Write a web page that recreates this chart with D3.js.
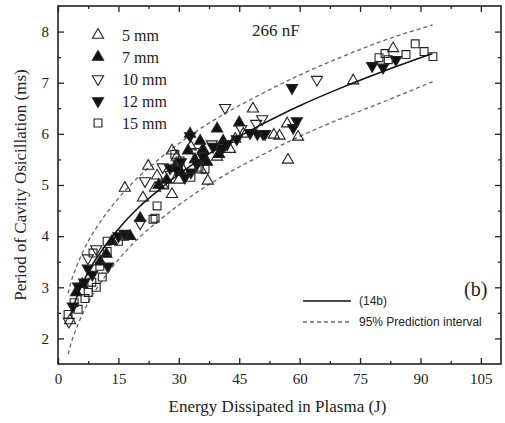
<!DOCTYPE html>
<html>
<head>
<meta charset="utf-8">
<script src="https://cdn.jsdelivr.net/npm/d3@7"></script>
<style>
  html, body { margin: 0; padding: 0; background: #fff; }
  svg { display: block; }
  .serif { font-family: "Liberation Serif", "Times New Roman", serif; fill: #222; }
  .sans { font-family: "Liberation Sans", Arial, sans-serif; fill: #222; }
</style>
</head>
<body>
<svg id="chart" width="505" height="423"></svg>
<script>
// Measured periods (ms) versus dissipated energy (J), by electrode gap
const gap5mm = [
  [3.0, 2.35], [16.6, 4.94], [21.1, 4.75], [22.4, 5.37], [24.6, 5.18], [24.1, 4.94],
  [28.3, 4.82], [28.3, 5.67], [29.5, 5.55], [31.0, 5.30], [33.0, 5.75], [35.5, 5.30],
  [37.2, 5.08], [39.5, 5.55], [42.7, 5.70], [44.0, 5.90], [48.4, 6.49], [53.6, 5.98],
  [55.0, 5.96], [56.9, 6.20], [57.1, 5.49], [59.6, 5.94], [73.3, 7.04], [83.2, 7.67],
  [26.0, 5.00], [30.0, 5.10], [40.5, 5.75], [46.0, 6.00]
];
const gap7mm = [
  [4.5, 2.90], [6.0, 3.06], [10.5, 3.50], [12.0, 3.65], [13.4, 3.90], [17.9, 4.00],
  [20.4, 4.35], [25.0, 5.00], [27.0, 5.10], [29.0, 5.35], [30.5, 5.25], [32.3, 5.67],
  [32.8, 6.00], [34.0, 5.50], [35.3, 5.86], [36.0, 5.70], [37.0, 5.45], [39.5, 6.10],
  [40.0, 5.60], [41.0, 5.86], [45.0, 6.22]
];
const gap10mm = [
  [2.7, 2.33], [7.4, 3.57], [9.5, 3.75], [20.4, 4.25], [21.6, 5.08], [26.0, 5.35],
  [28.0, 5.20], [30.0, 5.40], [34.0, 5.65], [38.2, 5.80], [41.5, 6.51], [45.5, 6.10],
  [49.2, 6.20], [50.7, 6.29], [64.3, 7.06]
];
const gap12mm = [
  [3.7, 2.63], [5.0, 3.02], [6.5, 3.10], [7.4, 3.37], [8.5, 3.25], [12.4, 3.41],
  [15.0, 4.00], [16.5, 4.05], [27.8, 5.33], [29.5, 5.30], [30.5, 5.45], [31.5, 5.15],
  [32.8, 5.96], [33.0, 5.25], [34.5, 5.41], [36.0, 5.55], [38.5, 5.75], [40.8, 5.72],
  [42.0, 5.80], [44.4, 5.90], [47.7, 6.02], [49.5, 6.00], [50.9, 6.00], [51.4, 6.00],
  [58.1, 6.90], [58.4, 6.12], [59.3, 6.25], [78.0, 7.33], [80.7, 7.30], [83.9, 7.45]
];
const gap15mm = [
  [2.5, 2.47], [4.0, 2.70], [5.0, 2.57], [6.7, 2.78], [7.5, 2.90], [8.4, 3.10],
  [8.7, 3.67], [9.5, 3.00], [10.4, 3.41], [11.0, 3.20], [12.2, 3.70], [12.2, 3.90],
  [15.0, 3.90], [16.6, 4.00], [23.6, 4.33], [24.1, 4.35], [24.6, 4.59], [26.5, 5.00],
  [29.0, 5.60], [30.3, 5.47], [33.0, 5.15], [35.0, 5.35], [36.5, 5.31], [79.7, 7.49],
  [81.2, 7.57], [82.0, 7.45], [86.4, 7.55], [88.7, 7.76], [90.9, 7.61], [93.1, 7.51]
];

// Fitted curve (14b) and its 95% prediction band
const fitEnergy = [3, 5, 7.5, 10, 15, 20, 25, 30, 40, 50, 60, 70, 80, 93];
const fitPeriod = [2.44, 2.88, 3.30, 3.62, 4.14, 4.56, 4.90, 5.21, 5.73, 6.16, 6.55, 6.89, 7.20, 7.57];
const bandEnergy = [2.5, 3, 5, 7.5, 10, 15, 20, 25, 30, 40, 50, 60, 70, 80, 93];
const bandUpper = [2.88, 3.04, 3.48, 3.90, 4.22, 4.74, 5.16, 5.50, 5.81, 6.33, 6.76, 7.15, 7.49, 7.80, 8.13];
const bandLower = [1.69, 1.84, 2.28, 2.70, 3.02, 3.54, 3.96, 4.30, 4.61, 5.13, 5.56, 5.95, 6.29, 6.60, 7.02];

const xTicks = [0, 15, 30, 45, 60, 75, 90, 105];
const yTicks = [2, 3, 4, 5, 6, 7, 8];
const seriesNames = ["5 mm", "7 mm", "10 mm", "12 mm", "15 mm"];

const svg = d3.select("#chart");
const plotL = 58, plotR = 501, plotT = 6, plotB = 364;

const x = d3.scaleLinear().domain([0, 110]).range([plotL, plotR]);
const y = d3.scaleLinear().domain([1.5, 8.5]).range([plotB, plotT]);

const series = [
  { name: seriesNames[0], data: gap5mm, shape: d3.symbolTriangle, rot: 0, fill: "none", size: 54 },
  { name: seriesNames[1], data: gap7mm, shape: d3.symbolTriangle, rot: 0, fill: "#111", size: 54 },
  { name: seriesNames[2], data: gap10mm, shape: d3.symbolTriangle, rot: 180, fill: "none", size: 54 },
  { name: seriesNames[3], data: gap12mm, shape: d3.symbolTriangle, rot: 180, fill: "#111", size: 54 },
  { name: seriesNames[4], data: gap15mm, shape: d3.symbolSquare, rot: 0, fill: "none", size: 62 }
];

// Prediction band and fit
const smooth = d3.line().x(d => x(d[0])).y(d => y(d[1])).curve(d3.curveMonotoneX);
svg.append("path")
  .attr("d", smooth(bandEnergy.map((e, i) => [e, bandUpper[i]])))
  .attr("fill", "none").attr("stroke", "#666").attr("stroke-width", 1.3)
  .attr("stroke-dasharray", "4,3");
svg.append("path")
  .attr("d", smooth(bandEnergy.map((e, i) => [e, bandLower[i]])))
  .attr("fill", "none").attr("stroke", "#666").attr("stroke-width", 1.3)
  .attr("stroke-dasharray", "4,3");

// Scatter markers
series.forEach(s => {
  const sym = d3.symbol().type(s.shape).size(s.size)();
  svg.append("g").selectAll("path").data(s.data).join("path")
    .attr("d", sym)
    .attr("transform", d => `translate(${x(d[0])},${y(d[1])}) rotate(${s.rot})`)
    .attr("fill", s.fill)
    .attr("stroke", "#222").attr("stroke-width", 1.1);
});

svg.append("path")
  .attr("d", smooth(fitEnergy.map((e, i) => [e, fitPeriod[i]])))
  .attr("fill", "none").attr("stroke", "#111").attr("stroke-width", 1.5);

// Axes with inward ticks on all four sides
const minorX = d3.range(7.5, 110, 15);
const minorY = d3.range(2.5, 8.5, 1);
function axisStyle(g) {
  g.select(".domain").remove();
  g.selectAll("line").attr("stroke", "#222").attr("stroke-width", 1.3);
  g.selectAll("text").attr("class", "serif").attr("font-size", 15).attr("fill", "#222");
}
svg.append("g").attr("transform", `translate(0,${plotB})`)
  .call(d3.axisBottom(x).tickValues(xTicks).tickSize(-6).tickPadding(9).tickFormat(d3.format("d")))
  .call(axisStyle);
svg.append("g").attr("transform", `translate(0,${plotB})`)
  .call(d3.axisBottom(x).tickValues(minorX).tickSize(-3).tickFormat(""))
  .call(axisStyle);
svg.append("g").attr("transform", `translate(0,${plotT})`)
  .call(d3.axisTop(x).tickValues(xTicks).tickSize(-6).tickFormat(""))
  .call(axisStyle);
svg.append("g").attr("transform", `translate(0,${plotT})`)
  .call(d3.axisTop(x).tickValues(minorX).tickSize(-3).tickFormat(""))
  .call(axisStyle);
svg.append("g").attr("transform", `translate(${plotL},0)`)
  .call(d3.axisLeft(y).tickValues(yTicks).tickSize(-6).tickPadding(9).tickFormat(d3.format("d")))
  .call(axisStyle);
svg.append("g").attr("transform", `translate(${plotL},0)`)
  .call(d3.axisLeft(y).tickValues(minorY).tickSize(-3).tickFormat(""))
  .call(axisStyle);
svg.append("g").attr("transform", `translate(${plotR},0)`)
  .call(d3.axisRight(y).tickValues(yTicks).tickSize(-6).tickFormat(""))
  .call(axisStyle);
svg.append("g").attr("transform", `translate(${plotR},0)`)
  .call(d3.axisRight(y).tickValues(minorY).tickSize(-3).tickFormat(""))
  .call(axisStyle);

svg.append("rect")
  .attr("x", plotL).attr("y", plotT).attr("width", plotR - plotL).attr("height", plotB - plotT)
  .attr("fill", "none").attr("stroke", "#222").attr("stroke-width", 1.6);

// Axis titles
svg.append("text").attr("class", "serif")
  .attr("x", (plotL + plotR) / 2 - 2).attr("y", 412)
  .attr("text-anchor", "middle").attr("font-size", 17)
  .text("Energy Dissipated in Plasma (J)");
svg.append("text").attr("class", "serif")
  .attr("transform", `translate(22,${(plotT + plotB) / 2}) rotate(-90)`)
  .attr("text-anchor", "middle").attr("dominant-baseline", "middle").attr("font-size", 17)
  .text("Period of Cavity Osicillation (ms)");

// Series legend
const leg = svg.append("g");
series.forEach((s, i) => {
  const cy = 35 + i * 22;
  leg.append("path")
    .attr("d", d3.symbol().type(s.shape).size(s.size)())
    .attr("transform", `translate(98,${cy}) rotate(${s.rot})`)
    .attr("fill", s.fill)
    .attr("stroke", "#222").attr("stroke-width", 1.1);
  leg.append("text").attr("class", "serif")
    .attr("x", 122).attr("y", cy).attr("dominant-baseline", "central")
    .attr("font-size", 16).text(s.name);
});

svg.append("text").attr("class", "serif")
  .attr("x", 252).attr("y", 36).attr("font-size", 17).text("266 nF");
svg.append("text").attr("class", "serif")
  .attr("x", 464).attr("y", 296).attr("font-size", 20).text("(b)");

// Fit legend
svg.append("line").attr("x1", 303).attr("x2", 351).attr("y1", 301).attr("y2", 301)
  .attr("stroke", "#111").attr("stroke-width", 1.5);
svg.append("text").attr("class", "sans").attr("x", 359).attr("y", 301)
  .attr("dominant-baseline", "central").attr("font-size", 12).text("(14b)");
svg.append("line").attr("x1", 303).attr("x2", 351).attr("y1", 322).attr("y2", 322)
  .attr("stroke", "#666").attr("stroke-width", 1.3).attr("stroke-dasharray", "4,3");
svg.append("text").attr("class", "sans").attr("x", 359).attr("y", 322)
  .attr("dominant-baseline", "central").attr("font-size", 12).text("95% Prediction interval");
</script>
</body>
</html>
